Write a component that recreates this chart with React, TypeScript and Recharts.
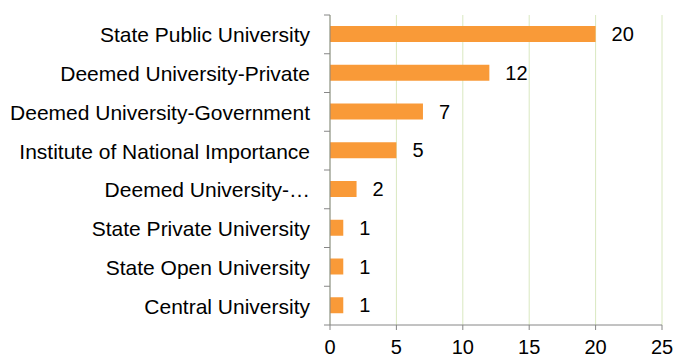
import { BarChart, Bar, XAxis, YAxis, CartesianGrid, LabelList } from 'recharts';

const categories = [
    'State Public University',
    'Deemed University-Private',
    'Deemed University-Government',
    'Institute of National Importance',
    'Deemed University-…',
    'State Private University',
    'State Open University',
    'Central University',
];
const counts = [20, 12, 7, 5, 2, 1, 1, 1];
const xTicks = [0, 5, 10, 15, 20, 25];

const data = categories.map((name, i) => ({ name, count: counts[i] }));

const axisColor = '#868686';
const gridColor = '#D9E8C0';
const barColor = '#F99A38';
const font = 'Liberation Sans, Arial, sans-serif';

const CategoryTick = ({ x, y, payload, index }: any) => {
    const band = 310 / categories.length;
    const axisX = x + 8;
    return (
        <g>
            <line x1={axisX - 6} x2={axisX} y1={y - band / 2} y2={y - band / 2} stroke={axisColor} />
            {index === categories.length - 1 && (
                <line x1={axisX - 6} x2={axisX} y1={y + band / 2} y2={y + band / 2} stroke={axisColor} />
            )}
            <text x={x - 12} y={y} dy={8} textAnchor="end" fontSize={21} fill="#000" fontFamily={font}>
                {payload.value}
            </text>
        </g>
    );
};

const App = () => {
    return (
        <div style={{ position: 'absolute', left: 0, top: 0, background: '#fff' }}>
            <BarChart
                width={676}
                height={363}
                data={data}
                layout="vertical"
                margin={{ top: 15, right: 14, bottom: 0, left: 0 }}
            >
                <CartesianGrid horizontal={false} stroke={gridColor} />
                <XAxis
                    type="number"
                    domain={[0, 25]}
                    ticks={xTicks}
                    height={38}
                    tickSize={5}
                    stroke={axisColor}
                    tick={{ fill: '#000', fontSize: 20, fontFamily: font }}
                    tickMargin={10}
                />
                <YAxis
                    type="category"
                    dataKey="name"
                    width={330}
                    stroke={axisColor}
                    tickLine={false}
                    interval={0}
                    tick={<CategoryTick />}
                />
                <Bar dataKey="count" fill={barColor} barSize={16} isAnimationActive={false}>
                    <LabelList dataKey="count" position="right" offset={16} fill="#000" fontSize={20} fontFamily={font} />
                </Bar>
            </BarChart>
        </div>
    );
};

export default App;
